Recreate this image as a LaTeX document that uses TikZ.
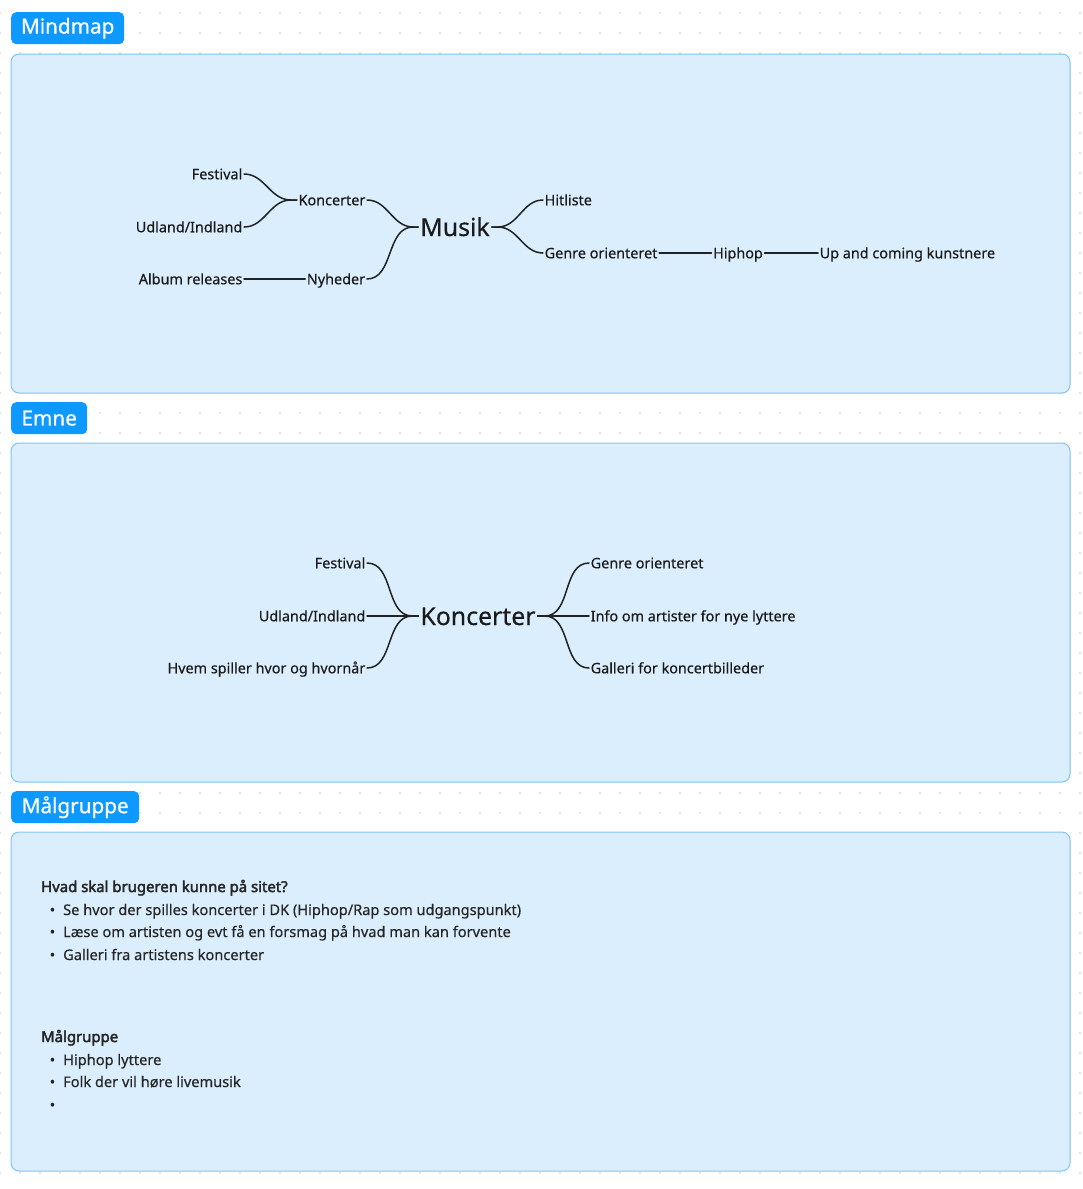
\documentclass[tikz,border=0pt]{standalone}
\usepackage{fontspec}
\setmainfont{Noto Sans}[FakeBold=0.35]
\newfontfamily\headfont{Noto Sans}[FakeBold=2.6]
\newfontfamily\tagfont{Noto Sans}[FakeBold=0.6]
\usetikzlibrary{positioning,calc}
\definecolor{cTag}{HTML}{0D99FF}
\definecolor{cPanel}{HTML}{DAEEFD}
\definecolor{cPanelD}{HTML}{7DC3F7}
\definecolor{cInk}{HTML}{1A1A1A}
\definecolor{cNote}{HTML}{262626}
\definecolor{cLine}{HTML}{222222}
\definecolor{cDot}{HTML}{C9C9C9}
\tikzset{
  tag/.style   ={rounded corners=5pt, fill=cTag, text=white, anchor=north west,
                 font=\fontsize{20.7}{24}\tagfont, minimum height=32pt,
                 inner xsep=0pt, inner ysep=0pt},
  panel/.style ={rounded corners=8pt, draw=cPanelD, fill=cPanel, line width=1pt},
  leaf/.style  ={font=\fontsize{14.4}{17}\selectfont, text=cInk, inner sep=1.5pt,
                 text height=10.5pt, text depth=0pt},
  hub/.style   ={font=\fontsize{24.8}{29}\selectfont, text=cInk, inner sep=2pt,
                 text height=18pt, text depth=0pt},
  branch/.style={draw=cLine, line width=1.5pt, line cap=round},
  note/.style  ={font=\fontsize{14.6}{17}\selectfont, text=cNote, inner sep=0pt,
                 anchor=base west},
  notehead/.style={note, font=\fontsize{14.9}{17}\headfont},
}
\newcommand{\bul}{\makebox[22pt][r]{\textbullet\hspace{8pt}}}

\begin{document}
\begin{tikzpicture}[x=1pt,y=-1pt]

  \useasboundingbox (0,0) rectangle (1083,1189);

  % ---- dot grid ----
  \foreach \gx in {0,20,...,1080}
    \foreach \gy in {13,33,...,1189}
      \fill[cDot] (\gx,\gy) circle (0.9);

  % ---- panels ----
  \draw[panel] (11,54) rectangle (1070,393);
  \draw[panel] (11,443) rectangle (1070,782);
  \draw[panel] (11,832) rectangle (1070,1171);

  % ---- tags ----
  \node[tag, minimum width=113pt] (tMind) at (11,12) {Mindmap};
  \node[tag, minimum width=76pt]  (tEmne) at (11,402) {Emne};
  \node[tag, minimum width=128pt] (tMaal) at (11,791) {Målgruppe};

  % ---- mindmap: Musik ----
  \node[hub] (musik) at (455,227) {Musik};
  \node[leaf] (kon) at (332,200) {Koncerter};
  \node[leaf] (nyh) at (336,279) {Nyheder};
  \node[leaf, anchor=east] (fest) at (244,174) {Festival};
  \node[leaf, anchor=east] (udl) at (244,227) {Udland/Indland};
  \node[leaf, anchor=east] (album) at (244,279) {Album releases};
  \node[leaf, anchor=west] (hit) at (543,200) {Hitliste};
  \node[leaf, anchor=west] (genre) at (543,253) {Genre orienteret};
  \node[leaf] (hiphop) at (738,253) {Hiphop};
  \node[leaf, anchor=west] (up) at (818,253) {Up and coming kunstnere};

  \draw[branch] (musik.west) -- ++(-5,0) to[out=180,in=0] (kon.east);
  \draw[branch] (musik.west) -- ++(-5,0) to[out=180,in=0] (nyh.east);
  \draw[branch] (kon.west) -- ++(-6,0) to[out=180,in=0] (fest.east);
  \draw[branch] (kon.west) -- ++(-6,0) to[out=180,in=0] (udl.east);
  \draw[branch] (album) -- (nyh);
  \draw[branch] (musik.east) -- ++(6,0) to[out=0,in=180] (hit.west);
  \draw[branch] (musik.east) -- ++(6,0) to[out=0,in=180] (genre.west);
  \draw[branch] (genre) -- (hiphop);
  \draw[branch] (hiphop) -- (up);

  % ---- emne: Koncerter ----
  \node[hub] (kon2) at (478,616) {Koncerter};
  \node[leaf, anchor=east] (fest2) at (367,563) {Festival};
  \node[leaf, anchor=east] (udl2) at (367,616) {Udland/Indland};
  \node[leaf, anchor=east] (hvem) at (367,668) {Hvem spiller hvor og hvornår};
  \node[leaf, anchor=west] (genre2) at (589,563) {Genre orienteret};
  \node[leaf, anchor=west] (info) at (589,616) {Info om artister for nye lyttere};
  \node[leaf, anchor=west] (gal) at (589,668) {Galleri for koncertbilleder};

  \draw[branch] (kon2.west) -- ++(-6,0) to[out=180,in=0] (fest2.east);
  \draw[branch] (kon2.west) -- (udl2.east);
  \draw[branch] (kon2.west) -- ++(-6,0) to[out=180,in=0] (hvem.east);
  \draw[branch] (kon2.east) -- ++(7,0) to[out=0,in=180] (genre2.west);
  \draw[branch] (kon2.east) -- (info.west);
  \draw[branch] (kon2.east) -- ++(7,0) to[out=0,in=180] (gal.west);

  % ---- maalgruppe: notes ----
  \node[notehead] (q) at (41,892) {Hvad skal brugeren kunne på sitet?};
  \node[note] (q1) at (41,915) {\bul Se hvor der spilles koncerter i DK (Hiphop/Rap som udgangspunkt)};
  \node[note] (q2) at (41,937) {\bul Læse om artisten og evt få en forsmag på hvad man kan forvente};
  \node[note] (q3) at (41,960) {\bul Galleri fra artistens koncerter};

  \node[notehead] (m) at (41,1042) {Målgruppe};
  \node[note] (m1) at (41,1065) {\bul Hiphop lyttere};
  \node[note] (m2) at (41,1087) {\bul Folk der vil høre livemusik};
  \node[note] (m3) at (41,1110) {\bul};

\end{tikzpicture}
\end{document}
